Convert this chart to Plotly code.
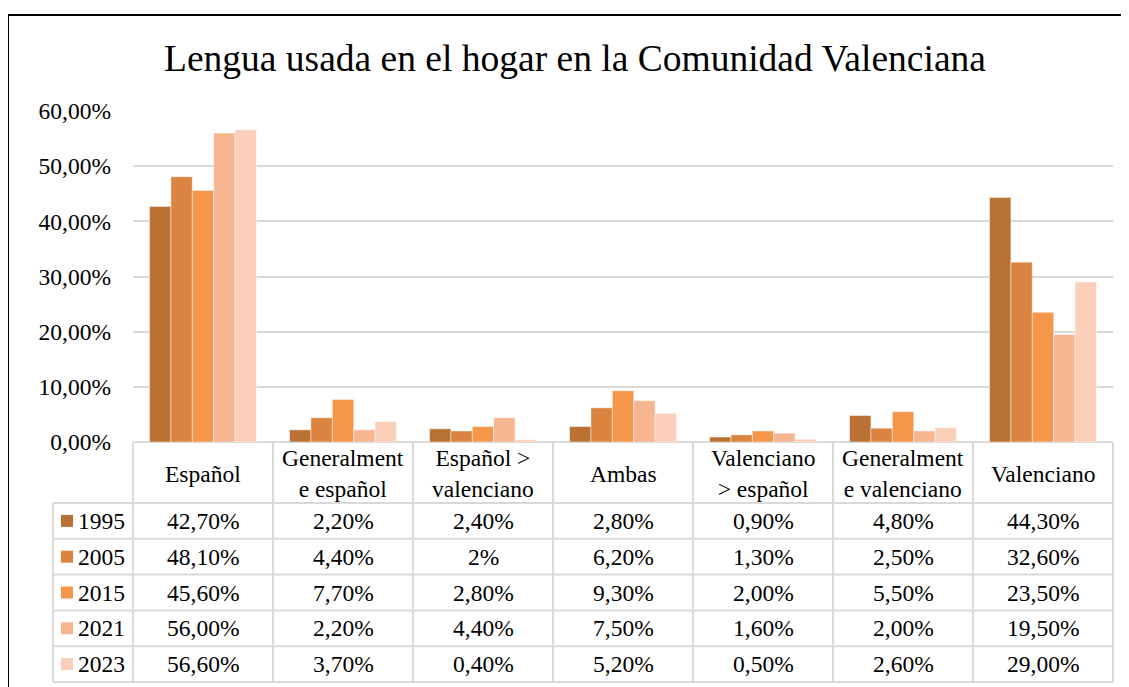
import plotly.graph_objects as go

W, H = 1129, 687
OX, OY = 8, 8  # page body offset

categories = ["Español", "Generalmente español", "Español > valenciano", "Ambas",
              "Valenciano > español", "Generalmente valenciano", "Valenciano"]
header_labels = ["Español", "Generalment<br>e español", "Español ><br>valenciano", "Ambas",
                 "Valenciano<br>> español", "Generalment<br>e valenciano", "Valenciano"]
years = ["1995", "2005", "2015", "2021", "2023"]

v1995 = [42.70, 2.20, 2.40, 2.80, 0.90, 4.80, 44.30]
v2005 = [48.10, 4.40, 2.00, 6.20, 1.30, 2.50, 32.60]
v2015 = [45.60, 7.70, 2.80, 9.30, 2.00, 5.50, 23.50]
v2021 = [56.00, 2.20, 4.40, 7.50, 1.60, 2.00, 19.50]
v2023 = [56.60, 3.70, 0.40, 5.20, 0.50, 2.60, 29.00]

t1995 = ["42,70%", "2,20%", "2,40%", "2,80%", "0,90%", "4,80%", "44,30%"]
t2005 = ["48,10%", "4,40%", "2%", "6,20%", "1,30%", "2,50%", "32,60%"]
t2015 = ["45,60%", "7,70%", "2,80%", "9,30%", "2,00%", "5,50%", "23,50%"]
t2021 = ["56,00%", "2,20%", "4,40%", "7,50%", "1,60%", "2,00%", "19,50%"]
t2023 = ["56,60%", "3,70%", "0,40%", "5,20%", "0,50%", "2,60%", "29,00%"]

series = [v1995, v2005, v2015, v2021, v2023]
texts = [t1995, t2005, t2015, t2021, t2023]
colors = ["#B97134", "#DA843F", "#F5974A", "#F8B591", "#FBCFBA"]

FONT = "Liberation Serif, Times New Roman, serif"
FS = 23.5

def px(x):
    return (x - OX) / W

def py(y):
    return 1 - (y - OY) / H

# screen-pixel geometry
PL, PR = 133, 1113
PT, PB = 111, 442
colw = (PR - PL) / len(categories)
row_top = 503
row_h = 35.8

fig = go.Figure()
for yr, vals, col in zip(years, series, colors):
    fig.add_trace(go.Bar(
        x=categories, y=[v / 100 for v in vals], name=yr,
        marker=dict(color=col, line=dict(color="rgba(255,255,255,0.45)", width=1)),
        showlegend=False,
    ))

shapes = []
annotations = []
grid = "#D9D9D9"

# chart border (top and left edges visible)
shapes.append(dict(type="line", xref="paper", yref="paper",
                   x0=px(7), x1=px(1300), y0=py(15), y1=py(15),
                   line=dict(color="black", width=2), layer="above"))
shapes.append(dict(type="line", xref="paper", yref="paper",
                   x0=px(8), x1=px(8), y0=py(14), y1=py(800),
                   line=dict(color="black", width=2), layer="above"))

for k in range(len(categories) + 1):
    x = PL + k * colw
    shapes.append(dict(type="line", xref="paper", yref="paper",
                       x0=px(x), x1=px(x), y0=py(PB + 1), y1=py(row_top + 5 * row_h),
                       line=dict(color=grid, width=2)))
shapes.append(dict(type="line", xref="paper", yref="paper",
                   x0=px(53), x1=px(53), y0=py(row_top), y1=py(row_top + 5 * row_h),
                   line=dict(color=grid, width=2)))
for r in range(6):
    y = row_top + r * row_h
    shapes.append(dict(type="line", xref="paper", yref="paper",
                       x0=px(53), x1=px(PR), y0=py(y), y1=py(y),
                       line=dict(color=grid, width=2)))

for k, lab in enumerate(header_labels):
    annotations.append(dict(x=px(PL + (k + 0.5) * colw), y=py((PB + row_top) / 2 + 1),
                            xref="paper", yref="paper", text=lab, showarrow=False,
                            xanchor="center", yanchor="middle", align="center",
                            font=dict(family=FONT, size=FS, color="black")))

for r, (yr, tx, col) in enumerate(zip(years, texts, colors)):
    yc = row_top + (r + 0.5) * row_h
    shapes.append(dict(type="rect", xref="paper", yref="paper",
                       x0=px(61), x1=px(73), y0=py(yc - 6), y1=py(yc + 6),
                       fillcolor=col, line=dict(width=0)))
    annotations.append(dict(x=px(76), y=py(yc), xref="paper", yref="paper", text=yr,
                            showarrow=False, xanchor="left", yanchor="middle",
                            font=dict(family=FONT, size=FS, color="black")))
    for k, t in enumerate(tx):
        annotations.append(dict(x=px(PL + (k + 0.5) * colw), y=py(yc), xref="paper", yref="paper",
                                text=t, showarrow=False, xanchor="center", yanchor="middle",
                                font=dict(family=FONT, size=FS, color="black")))

annotations.append(dict(x=px(575), y=py(58), xref="paper", yref="paper",
                        text="Lengua usada en el hogar en la Comunidad Valenciana",
                        showarrow=False, xanchor="center", yanchor="middle",
                        font=dict(family=FONT, size=37.5, color="black")))

fig.update_layout(
    width=W, height=H,
    margin=dict(l=0, r=0, t=0, b=0, pad=0, autoexpand=False),
    paper_bgcolor="white", plot_bgcolor="white",
    separators=",.",
    barmode="group", bargap=0.236, bargroupgap=0,
    font=dict(family=FONT, size=FS, color="black"),
    xaxis=dict(domain=[px(PL), px(PR)], showticklabels=False, showgrid=False,
               zeroline=False, showline=False, ticks="", automargin=False),
    yaxis=dict(domain=[py(PB), py(PT)], range=[0, 0.6], tickformat=".2%",
               tickvals=[0, 0.1, 0.2, 0.3, 0.4, 0.5, 0.6],
               showgrid=True, gridcolor=grid, gridwidth=2,
               zeroline=True, zerolinecolor=grid, zerolinewidth=2,
               showline=False, ticks="", ticklabelstandoff=21, automargin=False,
               tickfont=dict(family=FONT, size=FS, color="black")),
    shapes=shapes, annotations=annotations,
)

fig.write_html("out.html")
